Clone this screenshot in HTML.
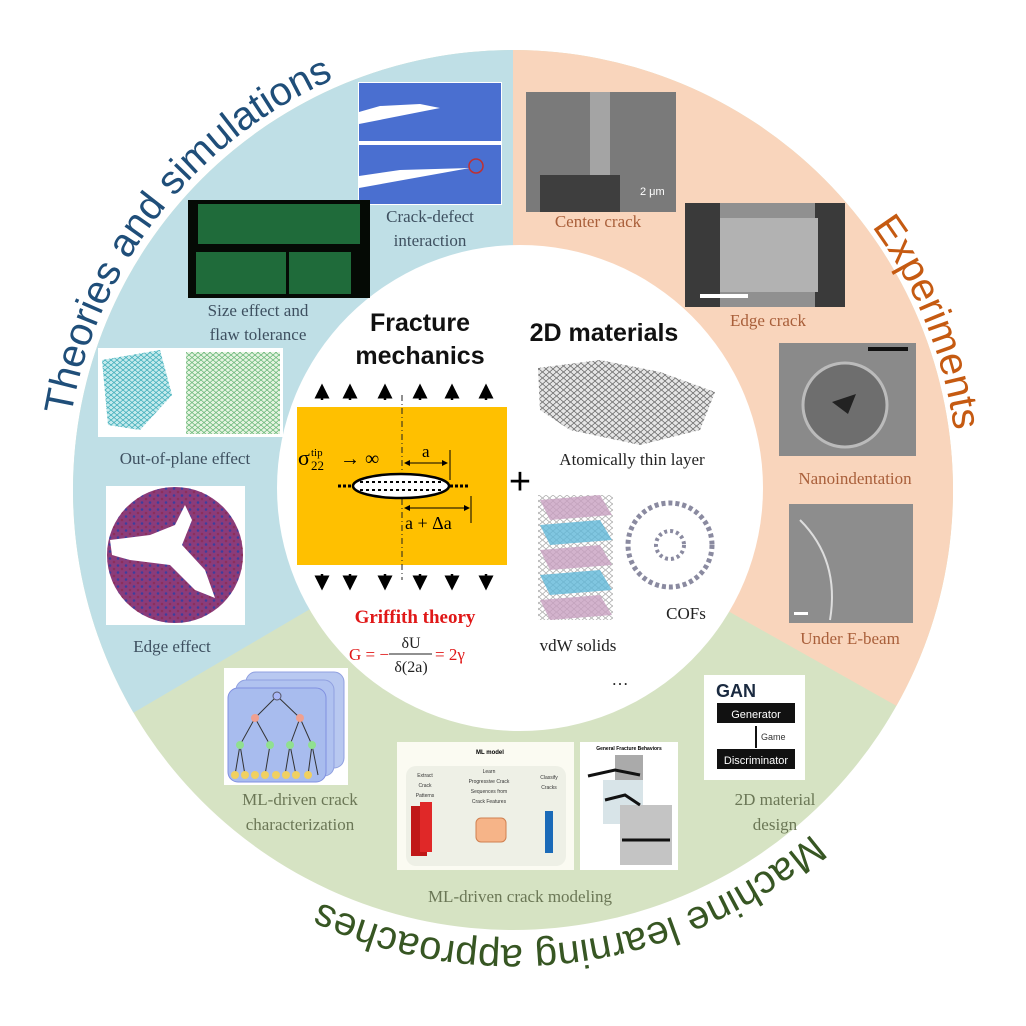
<!DOCTYPE html>
<html><head><meta charset="utf-8"><style>
html,body{margin:0;padding:0;background:#fff;}
svg{display:block;}
</style></head><body>
<svg width="1026" height="1026" viewBox="0 0 1026 1026" xmlns="http://www.w3.org/2000/svg">
<defs>
<clipPath id="disk"><circle cx="513" cy="490" r="440"/></clipPath>
<path id="pT" d="M 97.7 658 A 448 448 0 0 1 575.3 46.3"/>
<path id="pE" d="M 575 49.3 A 445 445 0 0 1 863.7 764"/>
<path id="pM" d="M 935 661 A 455 455 0 0 1 154.5 770"/>
<pattern id="hex" width="8" height="7" patternUnits="userSpaceOnUse"><circle cx="2" cy="2" r="1.3" fill="#8b2f5c"/><circle cx="6" cy="5.5" r="1.3" fill="#3b3f9e"/></pattern>
<pattern id="lat" width="7" height="6" patternUnits="userSpaceOnUse"><path d="M0 3 L3.5 0 L7 3 L3.5 6Z" fill="none" stroke="#555" stroke-width="0.8"/></pattern>
<pattern id="latg" width="6" height="5" patternUnits="userSpaceOnUse"><path d="M0 2.5 L3 0 L6 2.5 L3 5Z" fill="none" stroke="#3aa05a" stroke-width="0.8"/></pattern>
<pattern id="latb" width="6" height="5" patternUnits="userSpaceOnUse"><path d="M0 2.5 L3 0 L6 2.5 L3 5Z" fill="none" stroke="#2aa0b0" stroke-width="0.8"/></pattern>
<marker id="ah" markerWidth="6" markerHeight="6" refX="5" refY="3" orient="auto"><path d="M0 0 L6 3 L0 6Z" fill="#000"/></marker>
</defs>

<g clip-path="url(#disk)">
<rect x="0" y="0" width="1026" height="1026" fill="#d6e3c3"/>
<polygon points="513,490 513,0 1300,0 1300,933" fill="#f9d5bc"/>
<polygon points="513,490 -300,967 -300,0 513,0" fill="#bfdfe6"/>
</g>
<circle cx="520" cy="488" r="243" fill="#fff"/>

<text font-family="Liberation Sans, sans-serif" font-size="40" fill="#1f4e79"><textPath href="#pT" startOffset="50%" text-anchor="middle">Theories and simulations</textPath></text>
<text font-family="Liberation Sans, sans-serif" font-size="40" fill="#c55a11"><textPath href="#pE" startOffset="50%" text-anchor="middle">Experiments</textPath></text>
<text font-family="Liberation Sans, sans-serif" font-size="40" fill="#375623"><textPath href="#pM" startOffset="50%" text-anchor="middle">Machine learning approaches</textPath></text>

<rect x="358" y="82" width="144" height="123" fill="#fff"/>
<rect x="359" y="83" width="142" height="58" fill="#4a6fd0"/>
<rect x="359" y="145" width="142" height="59" fill="#4a6fd0"/>
<path d="M359 112 L380 106 L420 104 L440 108 L359 124Z" fill="#fff"/>
<path d="M359 176 L400 170 L470 168 L359 188Z" fill="#fff"/>
<circle cx="476" cy="166" r="7" fill="none" stroke="#c03030" stroke-width="1.5"/>
<rect x="188" y="200" width="182" height="98" fill="#050a05"/>
<rect x="198" y="204" width="162" height="40" fill="#1f6b3a"/>
<rect x="196" y="252" width="90" height="42" fill="#1f6b3a"/>
<rect x="289" y="252" width="62" height="42" fill="#1f6b3a"/>
<rect x="98" y="348" width="185" height="89" fill="#fff"/>
<polygon points="102,360 160,350 172,395 140,430 108,425" fill="url(#latb)"/>
<polygon points="102,360 160,350 172,395 140,430 108,425" fill="#58c3c8" opacity="0.35"/>
<rect x="186" y="352" width="94" height="82" fill="url(#latg)"/>
<rect x="186" y="352" width="94" height="82" fill="#b8e0a8" opacity="0.35"/>
<rect x="106" y="486" width="139" height="139" fill="#fff"/>
<circle cx="175" cy="555" r="68" fill="#8b3c7a"/>
<circle cx="175" cy="555" r="68" fill="url(#hex)"/>
<path d="M110 540 L150 535 L175 525 L185 505 L192 520 L182 545 L205 570 L215 598 L195 590 L170 565 L130 560 L112 555Z" fill="#fff"/>

<g font-family="Liberation Serif, serif" font-size="17" fill="#3e5060" text-anchor="middle">
<text x="430" y="222">Crack-defect</text>
<text x="430" y="246">interaction</text>
<text x="258" y="316">Size effect and</text>
<text x="258" y="340">flaw tolerance</text>
<text x="185" y="464">Out-of-plane effect</text>
<text x="172" y="652">Edge effect</text>
</g>

<rect x="526" y="92" width="150" height="120" fill="#7a7a7a"/>
<rect x="590" y="92" width="20" height="120" fill="#a4a4a4"/>
<rect x="540" y="175" width="80" height="37" fill="#3e3e3e"/>
<text x="640" y="195" font-family="Liberation Sans, sans-serif" font-size="11" fill="#fff">2 μm</text>
<rect x="685" y="203" width="160" height="104" fill="#909090"/>
<rect x="685" y="203" width="35" height="104" fill="#3a3a3a"/>
<rect x="815" y="203" width="30" height="104" fill="#3a3a3a"/>
<rect x="720" y="218" width="98" height="74" fill="#b2b2b2"/>
<rect x="700" y="294" width="48" height="4" fill="#fff"/>
<rect x="779" y="343" width="137" height="113" fill="#8a8a8a"/>
<circle cx="845" cy="405" r="42" fill="#6e6e6e" stroke="#bbb" stroke-width="3"/>
<polygon points="832,402 856,394 848,414" fill="#222"/>
<rect x="868" y="347" width="40" height="4" fill="#111"/>
<rect x="789" y="504" width="124" height="119" fill="#8d8d8d"/>
<path d="M800 520 Q840 560 830 620" stroke="#ddd" stroke-width="2" fill="none"/>
<rect x="794" y="612" width="14" height="3" fill="#fff"/>
<g font-family="Liberation Serif, serif" font-size="17" fill="#a95f3a" text-anchor="middle">
<text x="598" y="227">Center crack</text>
<text x="768" y="326">Edge crack</text>
<text x="855" y="484">Nanoindentation</text>
<text x="850" y="644">Under E-beam</text>
</g>

<rect x="224" y="668" width="124" height="117" fill="#fff"/>
<rect x="246" y="672" width="98" height="96" rx="10" fill="#b8c8f0" stroke="#90a0e0"/>
<rect x="236" y="680" width="98" height="96" rx="10" fill="#b0c2f0" stroke="#90a0e0"/>
<rect x="228" y="688" width="98" height="94" rx="10" fill="#a8bcee" stroke="#8090e0"/>
<g stroke="#333" stroke-width="1" fill="none">
<path d="M277 696 L255 718 L240 745 L235 775 M255 718 L270 745 M277 696 L300 718 L290 745 L285 775 M300 718 L312 745 L318 775 M240 745 L245 775 M270 745 L265 775 M290 745 L296 775 M312 745 L308 775"/>
</g>
<circle cx="277" cy="696" r="4" fill="#aab8f8" stroke="#556"/>
<circle cx="255" cy="718" r="4" fill="#f0a090"/><circle cx="300" cy="718" r="4" fill="#f0a090"/>
<circle cx="240" cy="745" r="4" fill="#90e090"/><circle cx="270" cy="745" r="4" fill="#90e090"/><circle cx="290" cy="745" r="4" fill="#90e090"/><circle cx="312" cy="745" r="4" fill="#90e090"/>
<g fill="#f0d060"><circle cx="235" cy="775" r="4"/><circle cx="245" cy="775" r="4"/><circle cx="255" cy="775" r="4"/><circle cx="265" cy="775" r="4"/><circle cx="276" cy="775" r="4"/><circle cx="286" cy="775" r="4"/><circle cx="296" cy="775" r="4"/><circle cx="308" cy="775" r="4"/></g>

<rect x="397" y="742" width="177" height="128" fill="#fbfbf2"/>
<rect x="406" y="766" width="160" height="100" rx="10" fill="#eef0e6"/>
<text x="490" y="754" font-family="Liberation Sans, sans-serif" font-size="6" font-weight="bold" text-anchor="middle">ML model</text>
<g font-family="Liberation Sans, sans-serif" font-size="5" fill="#333" text-anchor="middle">
<text x="425" y="777">Extract</text><text x="425" y="787">Crack</text><text x="425" y="797">Patterns</text>
<text x="489" y="773">Learn</text><text x="489" y="783">Progressive Crack</text><text x="489" y="793">Sequences from</text><text x="489" y="803">Crack Features</text>
<text x="549" y="779">Classify</text><text x="549" y="789">Cracks</text>
</g>
<rect x="411" y="806" width="16" height="50" fill="#c01818"/>
<rect x="420" y="802" width="12" height="50" fill="#e02828"/>
<rect x="476" y="818" width="30" height="24" rx="5" fill="#f6b488" stroke="#d08050"/>
<rect x="545" y="811" width="8" height="42" fill="#1a6ab8"/>
<rect x="580" y="742" width="98" height="128" fill="#fff"/>
<text x="629" y="750" font-family="Liberation Sans, sans-serif" font-size="5" text-anchor="middle" font-weight="bold">General Fracture Behaviors</text>
<rect x="615" y="755" width="28" height="44" fill="#aaa"/>
<rect x="603" y="780" width="40" height="44" fill="#d8e4e8"/>
<rect x="620" y="805" width="52" height="60" fill="#c4c4c4"/>
<path d="M588 776 L615 770 L640 775 M605 800 L625 795 L640 805 M622 840 L670 840" stroke="#111" stroke-width="3" fill="none"/>

<rect x="704" y="675" width="101" height="105" fill="#fff"/>
<text x="716" y="697" font-family="Liberation Sans, sans-serif" font-size="18" font-weight="bold" fill="#1a2a40">GAN</text>
<rect x="717" y="703" width="78" height="20" fill="#111"/>
<text x="756" y="718" font-family="Liberation Sans, sans-serif" font-size="11" fill="#fff" text-anchor="middle">Generator</text>
<line x1="756" y1="726" x2="756" y2="748" stroke="#111" stroke-width="2"/>
<text x="761" y="740" font-family="Liberation Sans, sans-serif" font-size="9" fill="#333">Game</text>
<rect x="717" y="749" width="78" height="20" fill="#111"/>
<text x="756" y="764" font-family="Liberation Sans, sans-serif" font-size="11" fill="#fff" text-anchor="middle">Discriminator</text>

<g font-family="Liberation Serif, serif" font-size="17" fill="#6b7756" text-anchor="middle">
<text x="300" y="805">ML-driven crack</text>
<text x="300" y="830">characterization</text>
<text x="520" y="902">ML-driven crack modeling</text>
<text x="775" y="805">2D material</text>
<text x="775" y="830">design</text>
</g>

<g font-family="Liberation Sans, sans-serif" font-size="25" font-weight="bold" text-anchor="middle" fill="#111">
<text x="420" y="331">Fracture</text>
<text x="420" y="364">mechanics</text>
<text x="604" y="341">2D materials</text>
</g>
<g stroke="#000" stroke-width="2.5">
<line x1="322" y1="400" x2="322" y2="386" marker-end="url(#ah)"/>
<line x1="350" y1="400" x2="350" y2="386" marker-end="url(#ah)"/>
<line x1="385" y1="400" x2="385" y2="386" marker-end="url(#ah)"/>
<line x1="420" y1="400" x2="420" y2="386" marker-end="url(#ah)"/>
<line x1="452" y1="400" x2="452" y2="386" marker-end="url(#ah)"/>
<line x1="486" y1="400" x2="486" y2="386" marker-end="url(#ah)"/>
<line x1="322" y1="574" x2="322" y2="588" marker-end="url(#ah)"/>
<line x1="350" y1="574" x2="350" y2="588" marker-end="url(#ah)"/>
<line x1="385" y1="574" x2="385" y2="588" marker-end="url(#ah)"/>
<line x1="420" y1="574" x2="420" y2="588" marker-end="url(#ah)"/>
<line x1="452" y1="574" x2="452" y2="588" marker-end="url(#ah)"/>
<line x1="486" y1="574" x2="486" y2="588" marker-end="url(#ah)"/>
</g>
<rect x="297" y="407" width="210" height="158" fill="#ffc000"/>
<line x1="402" y1="395" x2="402" y2="580" stroke="#222" stroke-width="1" stroke-dasharray="6,3,1,3"/>
<ellipse cx="401" cy="486" rx="48" ry="12" fill="#fff" stroke="#000" stroke-width="2.5"/>
<line x1="360" y1="482" x2="444" y2="482" stroke="#000" stroke-width="2" stroke-dasharray="3,3"/>
<line x1="360" y1="490" x2="444" y2="490" stroke="#000" stroke-width="2" stroke-dasharray="3,3"/>
<line x1="338" y1="486" x2="352" y2="486" stroke="#000" stroke-width="3" stroke-dasharray="3,2"/>
<line x1="450" y1="486" x2="468" y2="486" stroke="#000" stroke-width="3" stroke-dasharray="3,2"/>
<text x="298" y="465" font-family="Liberation Serif, serif" font-size="22">σ</text>
<text x="311" y="456" font-family="Liberation Serif, serif" font-size="11">tip</text>
<text x="311" y="470" font-family="Liberation Serif, serif" font-size="13">22</text>
<text x="340" y="465" font-family="Liberation Serif, serif" font-size="20">→ ∞</text>
<text x="422" y="457" font-family="Liberation Serif, serif" font-size="17">a</text>
<line x1="405" y1="463" x2="447" y2="463" stroke="#000" stroke-width="1" marker-end="url(#ah)"/>
<line x1="447" y1="463" x2="405" y2="463" stroke="#000" stroke-width="1" marker-end="url(#ah)"/>
<line x1="450" y1="450" x2="450" y2="480" stroke="#000"/>
<line x1="405" y1="508" x2="469" y2="508" stroke="#000" stroke-width="1" marker-end="url(#ah)"/>
<line x1="469" y1="508" x2="405" y2="508" stroke="#000" stroke-width="1" marker-end="url(#ah)"/>
<line x1="471" y1="496" x2="471" y2="523" stroke="#000"/>
<text x="405" y="529" font-family="Liberation Serif, serif" font-size="18">a + Δa</text>

<text x="415" y="623" font-family="Liberation Serif, serif" font-size="19" font-weight="bold" fill="#e01818" text-anchor="middle">Griffith theory</text>
<g font-family="Liberation Serif, serif" font-size="17" fill="#e01818">
<text x="349" y="660">G = −</text>
<text x="435" y="660">= 2γ</text>
</g>
<text x="411" y="648" font-family="Liberation Serif, serif" font-size="16" text-anchor="middle" fill="#222">δU</text>
<line x1="389" y1="654" x2="432" y2="654" stroke="#222"/>
<text x="411" y="672" font-family="Liberation Serif, serif" font-size="16" text-anchor="middle" fill="#222">δ(2a)</text>

<text x="520" y="494" font-family="Liberation Sans, sans-serif" font-size="38" text-anchor="middle">+</text>

<polygon points="538,368 600,360 660,372 715,392 700,430 640,445 570,430 540,410" fill="url(#lat)"/>
<polygon points="538,368 600,360 660,372 715,392 700,430 640,445 570,430 540,410" fill="#999" opacity="0.25"/>
<g>
<rect x="538" y="495" width="75" height="125" fill="url(#lat)" opacity="0.5"/>
<polygon points="540,500 600,495 612,515 550,520" fill="#c8a0c0" opacity="0.8"/>
<polygon points="540,525 600,520 612,540 550,545" fill="#60b8d8" opacity="0.8"/>
<polygon points="540,550 600,545 612,565 550,570" fill="#c8a0c0" opacity="0.8"/>
<polygon points="540,575 600,570 612,590 550,595" fill="#60b8d8" opacity="0.8"/>
<polygon points="540,600 600,595 612,615 550,620" fill="#c8a0c0" opacity="0.8"/>
</g>
<circle cx="670" cy="545" r="42" fill="none" stroke="#8a8aa0" stroke-width="5" stroke-dasharray="4,3"/>
<circle cx="670" cy="545" r="14" fill="none" stroke="#8a8aa0" stroke-width="4" stroke-dasharray="3,3"/>
<g font-family="Liberation Serif, serif" font-size="17" fill="#222" text-anchor="middle">
<text x="632" y="465">Atomically thin layer</text>
<text x="578" y="651">vdW solids</text>
<text x="686" y="619">COFs</text>
<text x="620" y="685">…</text>
</g>
</svg>
</body></html>
